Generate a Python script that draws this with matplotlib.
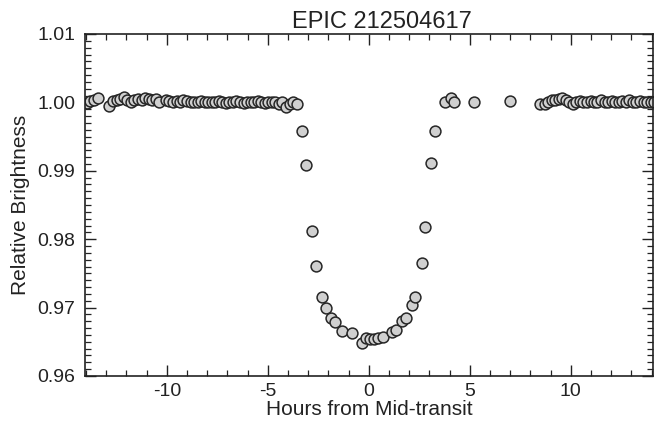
import matplotlib
matplotlib.use("Agg")
import matplotlib.pyplot as plt
from matplotlib.ticker import MultipleLocator, FormatStrFormatter

plt.rcParams['font.family'] = ['Liberation Sans', 'DejaVu Sans']
plt.rcParams['axes.unicode_minus'] = False

title = "EPIC 212504617"
xlabel = "Hours from Mid-transit"
ylabel = "Relative Brightness"

# pre-transit baseline
hours_pre = [-13.95, -13.78, -13.60, -13.40, -12.88, -12.68, -12.48, -12.30, -12.12, -11.95,
             -11.78, -11.60, -11.42, -11.25, -11.08, -10.90, -10.72, -10.55, -10.38,
             -10.05, -9.88, -9.70, -9.52, -9.35, -9.18, -9.00, -8.82, -8.65, -8.48,
             -8.30, -8.12, -7.95, -7.78, -7.60, -7.42, -7.25, -7.08, -6.90, -6.72,
             -6.55, -6.38, -6.20, -6.02, -5.85, -5.68, -5.50, -5.32, -5.15, -4.98,
             -4.80, -4.62, -4.45, -4.28, -4.10, -3.92, -3.75, -3.55]
flux_pre = [0.9999, 1.0002, 1.0004, 1.0006, 0.9995, 1.0002, 1.0004, 1.0005, 1.0008, 1.0004,
            1.0001, 1.0003, 1.0005, 1.0004, 1.0006, 1.0005, 1.0003, 1.0005, 1.0001,
            1.0003, 1.0002, 1.0001, 1.0002, 1.0001, 1.0003, 1.0002, 1.0001, 1.0000, 1.0001,
            1.0002, 1.0000, 1.0001, 1.0000, 1.0001, 1.0002, 1.0000, 0.9999, 1.0001, 1.0000,
            1.0002, 1.0001, 0.9999, 1.0000, 1.0001, 1.0000, 1.0002, 1.0001, 0.9999, 1.0000,
            1.0001, 1.0000, 0.9998, 1.0001, 0.9994, 0.9997, 1.0000, 0.9998]

# transit
hours_tr = [-3.29, -3.09, -2.79, -2.60, -2.30, -2.10, -1.85, -1.69, -1.31, -0.81,
            -0.35, -0.15, 0.05, 0.26, 0.46, 0.68, 1.13, 1.34, 1.62, 1.84,
            2.12, 2.28, 2.61, 2.78, 3.08, 3.28]
flux_tr = [0.99586, 0.99085, 0.98124, 0.97613, 0.97155, 0.96994, 0.96843, 0.96794, 0.96662, 0.96633,
           0.96487, 0.96555, 0.96540, 0.96540, 0.96555, 0.96575, 0.96640, 0.96673, 0.96809, 0.96848,
           0.97038, 0.97150, 0.97648, 0.98174, 0.99118, 0.99586]

# post-transit baseline
hours_post = [3.77, 4.07, 4.23, 5.23, 7.00, 8.47,
              8.70, 8.88, 9.05, 9.22, 9.40, 9.58, 9.75, 9.92, 10.10, 10.28,
              10.45, 10.62, 10.80, 10.98, 11.15, 11.32, 11.50, 11.68, 11.85, 12.02,
              12.20, 12.38, 12.55, 12.72, 12.90, 13.08, 13.25, 13.42, 13.60, 13.78,
              13.95, 14.10]
flux_post = [1.0000, 1.0006, 1.0000, 1.0000, 1.0002, 0.9998,
             0.9998, 1.0001, 1.0003, 1.0004, 1.0005, 1.0006, 1.0003, 1.0000, 0.9998, 1.0001,
             1.0002, 1.0000, 1.0001, 1.0002, 1.0000, 1.0001, 1.0003, 1.0001, 1.0000, 1.0002,
             1.0001, 1.0000, 1.0002, 1.0001, 1.0003, 1.0001, 1.0000, 1.0002, 1.0001, 1.0000,
             1.0001, 1.0000]

fig = plt.figure(figsize=(6.63, 4.28), dpi=100)
ax = fig.add_axes([85/663, 1 - 376/428, (653-85)/663, (376-34)/428])

for hx, fy in ((hours_pre, flux_pre), (hours_tr, flux_tr), (hours_post, flux_post)):
    ax.plot(hx, fy, linestyle='none', marker='o', markersize=7.8,
            markerfacecolor='#d0d0d0', markeredgecolor='#262626', markeredgewidth=1.1,
            clip_on=True)

ax.set_xlim(-14.05, 14.07)
ax.set_ylim(0.96, 1.01)
ax.xaxis.set_major_locator(MultipleLocator(5))
ax.xaxis.set_minor_locator(MultipleLocator(1))
ax.yaxis.set_major_locator(MultipleLocator(0.01))
ax.yaxis.set_minor_locator(MultipleLocator(0.001))
ax.yaxis.set_major_formatter(FormatStrFormatter('%.2f'))
ax.tick_params(which='both', direction='in', top=True, right=True, labelsize=14,
               color='#222222', labelcolor='#222222')
ax.tick_params(which='major', length=8, width=1.0)
ax.tick_params(axis='x', which='major', pad=5)
ax.tick_params(axis='y', which='major', pad=7)
ax.tick_params(which='minor', length=4, width=0.9)
for s in ax.spines.values():
    s.set_linewidth(1.2)
    s.set_color('#222222')

ax.set_xlabel(xlabel, fontsize=15, color='#222222', labelpad=0)
ax.set_ylabel(ylabel, fontsize=15, color='#222222', labelpad=5)
fig.text(382/663, 1 - 28/428, title, fontsize=17, ha='center', va='baseline', color='#222222')

fig.savefig("out.png", dpi=100)
